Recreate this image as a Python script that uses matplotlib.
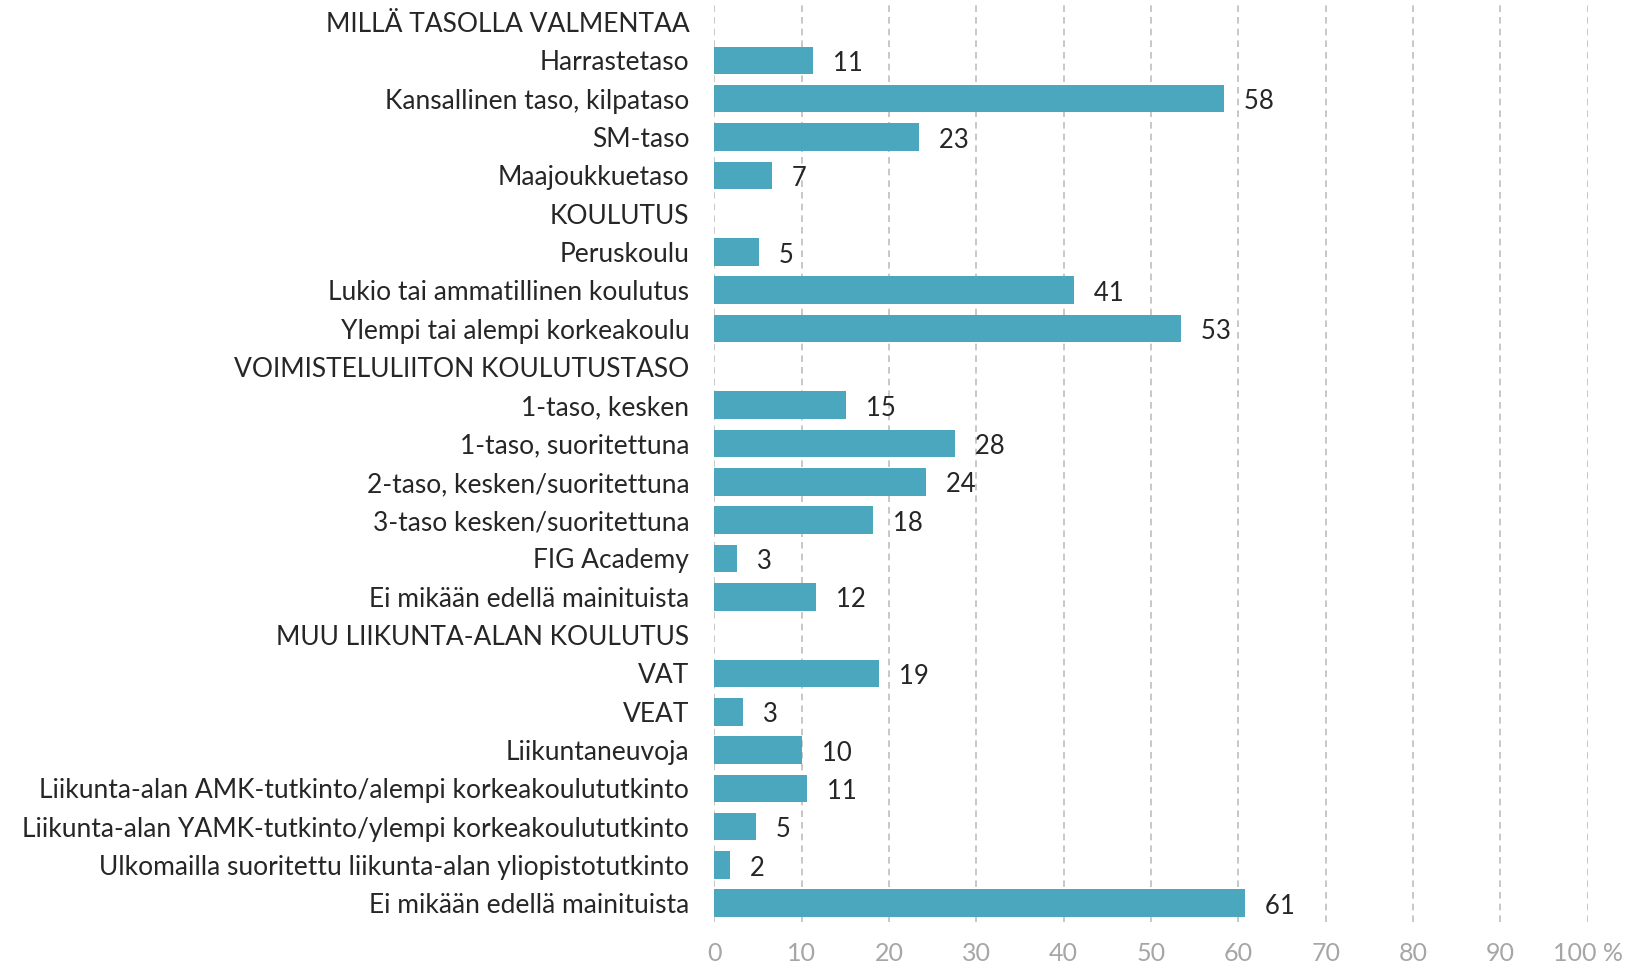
import matplotlib.pyplot as plt
import numpy as np

# rows top to bottom; None = section header (no bar)
labels = ['MILLÄ TASOLLA VALMENTAA', 'Harrastetaso', 'Kansallinen taso, kilpataso',
          'SM-taso', 'Maajoukkuetaso', 'KOULUTUS', 'Peruskoulu',
          'Lukio tai ammatillinen koulutus', 'Ylempi tai alempi korkeakoulu',
          'VOIMISTELULIITON KOULUTUSTASO', '1-taso, kesken', '1-taso, suoritettuna',
          '2-taso, kesken/suoritettuna', '3-taso kesken/suoritettuna', 'FIG Academy',
          'Ei mikään edellä mainituista', 'MUU LIIKUNTA-ALAN KOULUTUS', 'VAT', 'VEAT',
          'Liikuntaneuvoja', 'Liikunta-alan AMK-tutkinto/alempi korkeakoulututkinto',
          'Liikunta-alan YAMK-tutkinto/ylempi korkeakoulututkinto',
          'Ulkomailla suoritettu liikunta-alan yliopistotutkinto',
          'Ei mikään edellä mainituista']
values = [None, 11.3, 58.4, 23.4, 6.6, None, 5.1, 41.2, 53.4,
          None, 15.1, 27.6, 24.2, 18.2, 2.6, 11.6,
          None, 18.9, 3.3, 10.1, 10.6, 4.8, 1.8, 60.8]
xticks = [0, 10, 20, 30, 40, 50, 60, 70, 80, 90, 100]
xticklabels = ['0', '10', '20', '30', '40', '50', '60', '70', '80', '90', '100 %']

plt.rcParams['font.family'] = ['Lato', 'DejaVu Sans']

fig = plt.figure(figsize=(16.42, 9.71), dpi=100)
ax = fig.add_axes([0.435, 0.05, 0.532, 0.947])

n = len(labels)
y = np.arange(n)
for i, v in enumerate(values):
    if v is None:
        continue
    ax.barh(y[i], v, height=0.72, color='#4BA7BE', zorder=3)
    ax.text(v, y[i] + 0.08, '   ' + str(int(round(v))), va='center', ha='left',
            fontsize=18.5, color='#262626')

ax.set_ylim(n - 0.5, -0.5)
ax.set_xlim(0, 100)
ax.set_yticks(y)
ax.set_yticklabels(labels, fontsize=19, color='#262626')
ax.set_xticks(xticks)
ax.set_xticklabels(xticklabels, fontsize=18, color='#A6A6A6')
ax.tick_params(axis='both', length=0)
ax.tick_params(axis='y', pad=18)
ax.tick_params(axis='x', pad=14)
ax.grid(axis='x', color='#BFBFBF', linestyle=(0, (4, 3)), linewidth=1.2, zorder=0)
for s in ax.spines.values():
    s.set_visible(False)

fig.savefig('out.png', dpi=100)
